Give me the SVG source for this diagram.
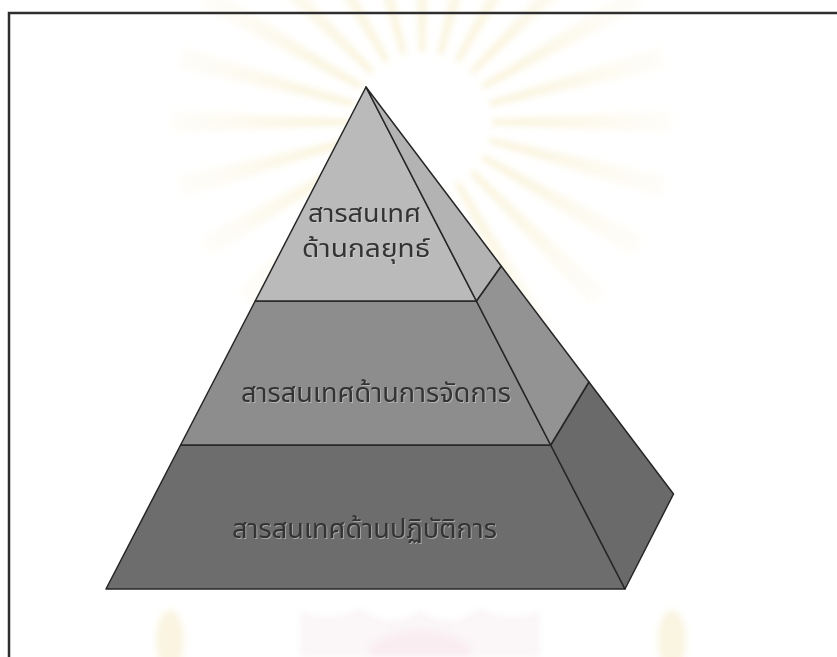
<svg xmlns="http://www.w3.org/2000/svg" width="837" height="657" viewBox="0 0 837 657">
  <style>
    .edge { stroke: #262626; stroke-width: 1.5; stroke-linejoin: round; }
    .lbl { font-family: "Noto Sans Thai", "Noto Sans", "DejaVu Sans", sans-serif; fill: #333333; }
    .lblh { font-family: "Noto Sans Thai", "Noto Sans", "DejaVu Sans", sans-serif; fill: #dcdcdc; opacity: 0.5; }
    .top { font-size: 24px; }
    .big { font-size: 26px; }
  </style>
  <defs>
    <radialGradient id="rayfade" cx="422" cy="122" r="260" gradientUnits="userSpaceOnUse">
      <stop offset="0.25" stop-color="#f3e4a8" stop-opacity="0.9"/>
      <stop offset="1" stop-color="#f8efcf" stop-opacity="0.15"/>
    </radialGradient>
    <filter id="soft" x="-20%" y="-20%" width="140%" height="140%">
      <feGaussianBlur stdDeviation="3"/>
    </filter>
    <polygon id="ray" points="492,119.5 492,124.5 672,133 672,111" fill="url(#rayfade)"/>
  </defs>
  <rect x="0" y="0" width="837" height="657" fill="#ffffff"/>

  <g id="watermark" opacity="0.55" filter="url(#soft)">
    <use href="#ray" transform="rotate(0 422 122)"/>
    <use href="#ray" transform="rotate(15 422 122)"/>
    <use href="#ray" transform="rotate(30 422 122)"/>
    <use href="#ray" transform="rotate(45 422 122)"/>
    <use href="#ray" transform="rotate(60 422 122)"/>
    <use href="#ray" transform="rotate(75 422 122)"/>
    <use href="#ray" transform="rotate(105 422 122)"/>
    <use href="#ray" transform="rotate(120 422 122)"/>
    <use href="#ray" transform="rotate(135 422 122)"/>
    <use href="#ray" transform="rotate(150 422 122)"/>
    <use href="#ray" transform="rotate(165 422 122)"/>
    <use href="#ray" transform="rotate(180 422 122)"/>
    <use href="#ray" transform="rotate(195 422 122)"/>
    <use href="#ray" transform="rotate(210 422 122)"/>
    <use href="#ray" transform="rotate(225 422 122)"/>
    <use href="#ray" transform="rotate(240 422 122)"/>
    <use href="#ray" transform="rotate(255 422 122)"/>
    <use href="#ray" transform="rotate(270 422 122)"/>
    <use href="#ray" transform="rotate(285 422 122)"/>
    <use href="#ray" transform="rotate(300 422 122)"/>
    <use href="#ray" transform="rotate(315 422 122)"/>
    <use href="#ray" transform="rotate(330 422 122)"/>
    <use href="#ray" transform="rotate(345 422 122)"/>
    <path d="M300,610 Q330,625 360,608 Q390,632 420,610 Q450,632 480,608 Q510,625 540,610 L540,657 L300,657 Z" fill="#f7eef0"/>
    <path d="M370,645 Q420,615 470,645 L470,657 L370,657 Z" fill="#f6dfe6"/>
    <ellipse cx="170" cy="640" rx="14" ry="30" fill="#f6ecc8"/>
    <ellipse cx="672" cy="640" rx="14" ry="30" fill="#f6ecc8"/>
  </g>

  <rect id="frame" x="9" y="13" width="840" height="660" fill="none" stroke="#2e2e2e" stroke-width="2.5"/>

  <g id="tier-bottom">
    <polygon class="edge" points="180.6,445 550.7,445 625,589 106,589" fill="#6d6d6d"/>
    <polygon class="edge" points="550.7,445 588.9,382 673.5,494 625,589" fill="#6a6a6a"/>
    <text class="lblh big" x="233" y="539" textLength="265" lengthAdjust="spacingAndGlyphs">สารสนเทศด้านปฏิบัติการ</text>
    <text class="lbl big" x="232" y="538" textLength="265" lengthAdjust="spacingAndGlyphs">สารสนเทศด้านปฏิบัติการ</text>
  </g>

  <g id="tier-middle">
    <polygon class="edge" points="255.2,301 476.4,301 550.7,445 180.6,445" fill="#8d8d8d"/>
    <polygon class="edge" points="476.4,301 501.2,266 588.9,382 550.7,445" fill="#939393"/>
    <text class="lblh big" x="242" y="403" textLength="270" lengthAdjust="spacingAndGlyphs">สารสนเทศด้านการจัดการ</text>
    <text class="lbl big" x="241" y="402" textLength="270" lengthAdjust="spacingAndGlyphs">สารสนเทศด้านการจัดการ</text>
  </g>

  <g id="tier-top">
    <polygon class="edge" points="366,87 476.4,301 255.2,301" fill="#bababa"/>
    <polygon class="edge" points="366,87 501.2,266 476.4,301" fill="#b3b3b3"/>
    <text class="lblh top" x="309" y="223" textLength="113" lengthAdjust="spacingAndGlyphs">สารสนเทศ</text>
    <text class="lbl top" x="308" y="222" textLength="113" lengthAdjust="spacingAndGlyphs">สารสนเทศ</text>
    <text class="lblh top" x="303" y="258" textLength="128" lengthAdjust="spacingAndGlyphs">ด้านกลยุทธ์</text>
    <text class="lbl top" x="302" y="257" textLength="128" lengthAdjust="spacingAndGlyphs">ด้านกลยุทธ์</text>
  </g>

  <g id="connectors"/>
</svg>
